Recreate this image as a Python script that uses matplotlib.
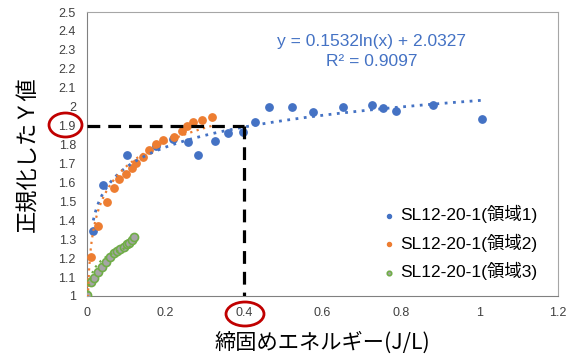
import numpy as np
import matplotlib
matplotlib.use("Agg")
import matplotlib.pyplot as plt
from matplotlib.patches import Ellipse

plt.rcParams['font.family'] = ['Liberation Sans', 'Noto Sans CJK JP', 'DejaVu Sans']

# 領域1
x1 = [0.016, 0.040, 0.101, 0.176, 0.219, 0.257, 0.284, 0.326, 0.358, 0.398,
      0.427, 0.463, 0.523, 0.576, 0.653, 0.725, 0.753, 0.787, 0.881, 1.006]
y1 = [1.343, 1.586, 1.745, 1.794, 1.830, 1.815, 1.745, 1.820, 1.860, 1.868,
      1.918, 1.998, 1.998, 1.974, 1.998, 2.009, 1.991, 1.979, 2.009, 1.933]
# 領域2
x2 = [0.002, 0.009, 0.029, 0.050, 0.070, 0.082, 0.099, 0.114, 0.126, 0.143,
      0.158, 0.177, 0.194, 0.221, 0.243, 0.254, 0.269, 0.293, 0.319]
y2 = [1.076, 1.208, 1.371, 1.495, 1.572, 1.618, 1.644, 1.675, 1.700, 1.736,
      1.770, 1.801, 1.824, 1.840, 1.873, 1.898, 1.918, 1.930, 1.944]
# 領域3
x3 = [0.001, 0.010, 0.019, 0.028, 0.038, 0.048, 0.058, 0.068, 0.076, 0.085,
      0.093, 0.102, 0.108, 0.115, 0.119]
y3 = [1.005, 1.072, 1.097, 1.129, 1.155, 1.181, 1.208, 1.225, 1.238, 1.248,
      1.260, 1.273, 1.282, 1.296, 1.310]

labels = ['SL12-20-1(領域1)', 'SL12-20-1(領域2)', 'SL12-20-1(領域3)']
xticks = [0, 0.2, 0.4, 0.6, 0.8, 1, 1.2]
yticks = [1, 1.1, 1.2, 1.3, 1.4, 1.5, 1.6, 1.7, 1.8, 1.9, 2, 2.1, 2.2, 2.3, 2.4, 2.5]
# 近似式 (領域1)
a1, b1 = 0.1532, 2.0327
r2 = 0.9097
x_target, y_target = 0.4, 1.9

blue, orange, green = '#4472C4', '#ED7D31', '#70AD47'

fig = plt.figure(figsize=(5.69, 3.6), dpi=100)
ax = fig.add_axes([87/569, 1-296/360, (558-87)/569, (296-12)/360])

ax.scatter(x1, y1, s=28, color=blue, zorder=3, label=labels[0])
ax.scatter(x2, y2, s=28, color=orange, zorder=3, label=labels[1])
ax.scatter(x3, y3, s=34, facecolor='#A5A5A5', edgecolor=green, linewidth=1.2,
           zorder=3, label=labels[2])

# 対数近似線
xx = np.linspace(min(x1), max(x1), 300)
ax.plot(xx, a1*np.log(xx) + b1, ls=(0, (1, 2)), color=blue, lw=2, zorder=4)
for xs, ys, c in [(x2, y2, orange), (x3, y3, green)]:
    k, c0 = np.polyfit(np.log(xs), ys, 1)
    xx = np.linspace(min(xs), max(xs), 300)
    ax.plot(xx, k*np.log(xx) + c0, ls=(0, (1, 2)), color=c, lw=1.6, zorder=4)

# 読み取り線
ax.plot([0, x_target], [y_target, y_target], color='black', lw=2.3, ls=(0, (4, 2.5)), zorder=5)
ax.plot([x_target, x_target], [y_target, 1], color='black', lw=2.3, ls=(0, (4, 2.5)), zorder=5)

ax.set_xlim(0, 1.2)
ax.set_ylim(1, 2.5)
ax.set_xticks(xticks)
ax.set_xticklabels(['0', '0.2', '0.4', '0.6', '0.8', '1', '1.2'])
ax.set_yticks(yticks)
ax.set_yticklabels([f'{v:g}' for v in yticks])
ax.tick_params(length=0, labelsize=9, colors='#404040', pad=8)
for s in ax.spines.values():
    s.set_color('#A6A6A6')
ax.spines['left'].set_color('#808080')
ax.spines['bottom'].set_color('#808080')

ax.text(0.726, 2.342, f'y = {a1}ln(x) + {b1}', color=blue, fontsize=12.5,
        ha='center', va='center')
ax.text(0.726, 2.236, f'R² = {r2}', color=blue, fontsize=12.5,
        ha='center', va='center')

ax.set_xlabel('締固めエネルギー(J/L)', fontsize=15.3, family=['Noto Sans CJK JP'], labelpad=9)
ax.set_ylabel('正規化したＹ値', fontsize=16, family=['Noto Sans CJK JP'], labelpad=14)

leg = ax.legend(loc='center left', bbox_to_anchor=(0.601, 0.188), frameon=False,
                fontsize=12.5, markerscale=0.55, handletextpad=0.05,
                handlelength=1.2, labelspacing=0.6, borderpad=0)

# 赤丸
fig.add_artist(Ellipse((65.5/569, 1-125/360), 33/569, 24/360, fill=False,
                       edgecolor='#C00000', lw=2, transform=fig.transFigure))
fig.add_artist(Ellipse((245/569, 1-314/360), 38/569, 24/360, fill=False,
                       edgecolor='#C00000', lw=2, transform=fig.transFigure))

fig.savefig('out.png', dpi=100)
